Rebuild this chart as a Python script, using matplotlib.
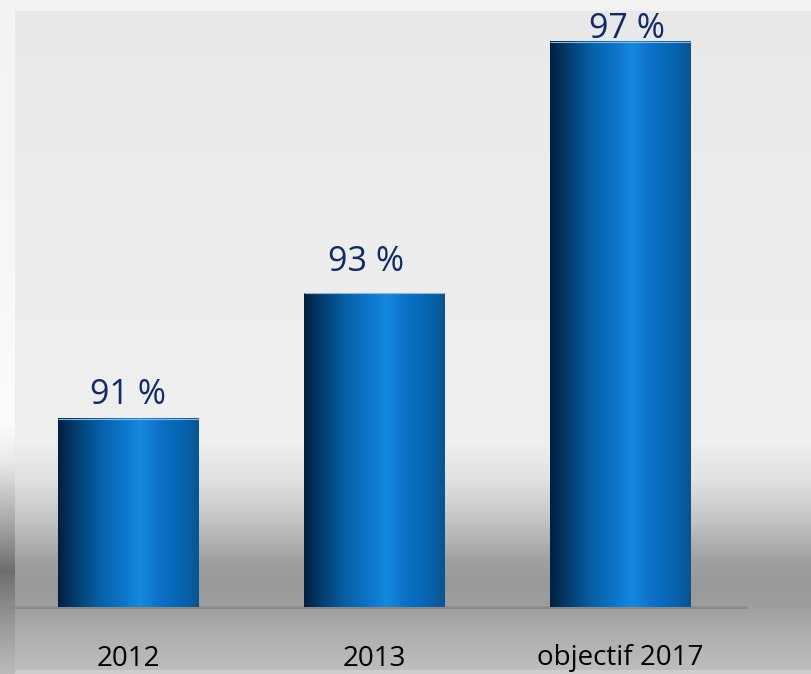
import numpy as np
import matplotlib
matplotlib.use("Agg")
import matplotlib.pyplot as plt
from matplotlib.colors import LinearSegmentedColormap

categories = ["2012", "2013", "objectif 2017"]
values = [91, 93, 97]
value_labels = ["91 %", "93 %", "97 %"]

W, H = 811, 674
fig = plt.figure(figsize=(W / 100, H / 100), dpi=100)

# ---- background (figure-level gradient image) ----
def vprofile(stops, n=H):
    ys = np.arange(n)
    pos = [s[0] for s in stops]
    cols = np.array([s[1] for s in stops], dtype=float)
    return np.stack([np.interp(ys, pos, cols[:, c]) for c in range(3)], axis=1)

def g(v):
    return (v / 255, v / 255, v / 255)

panel = vprofile([(0, g(232)), (60, g(234)), (200, g(237)), (440, g(239)),
                  (480, g(225)), (520, g(196)), (560, g(160)), (585, g(152)),
                  (606, g(158)), (625, g(170)), (670, g(190)), (674, g(190))])
strip = vprofile([(0, g(243)), (200, g(246)), (420, g(252)), (460, g(235)),
                  (520, g(170)), (570, g(110)), (620, g(150)), (670, g(185)), (674, g(185))])
bg = np.repeat(panel[:, None, :], W, axis=1)
bg[:, :15, :] = strip[:, None, :]
bg[:11, 15:, :] = np.array(g(242))
bg[670:, 15:, :] = np.array(g(205))

bgax = fig.add_axes([0, 0, 1, 1])
bgax.imshow(bg, aspect="auto", extent=(0, W, H, 0), zorder=0)
bgax.set_xlim(0, W)
bgax.set_ylim(H, 0)
bgax.axis("off")

# ---- main axes ----
base_px = 607
left_px, right_px = 15, 746
ax = fig.add_axes([left_px / W, (H - base_px) / H, (right_px - left_px) / W, base_px / H])
ax.patch.set_alpha(0)
ymin = 88
ppu = 62.8
ax.set_ylim(ymin, ymin + base_px / ppu)
x = np.arange(len(categories))
ax.set_xlim(-0.46, 2.51)
bar_w = 0.572

bar_cmap = LinearSegmentedColormap.from_list("bar", [
    (0.00, "#01203f"), (0.12, "#033c6b"), (0.30, "#0661a8"),
    (0.45, "#0b74c6"), (0.58, "#1688de"), (0.72, "#0b72c8"),
    (0.88, "#0665b0"), (1.00, "#0a5490")])
grad = np.linspace(0, 1, 256)[None, :]

bars = ax.bar(x, [v - ymin for v in values], bottom=ymin, width=bar_w,
              color="none", edgecolor="none", zorder=2)
for b in bars:
    x0, y0 = b.get_x(), b.get_y()
    ax.imshow(grad, cmap=bar_cmap, aspect="auto", zorder=2,
              extent=(x0, x0 + b.get_width(), y0, y0 + b.get_height()))
    ax.plot([x0, x0 + b.get_width()], [y0 + b.get_height()] * 2,
            color="#8fb8e0", lw=0.8, zorder=3, solid_capstyle="butt")

label_dx_px = [0, -8, 7]
label_gaps_px = [15, 22, 4]
for b, lab, dx, off in zip(bars, value_labels, label_dx_px, label_gaps_px):
    ax.annotate(lab, (b.get_x() + b.get_width() / 2, b.get_y() + b.get_height()),
                xytext=(dx * 0.72, off * 0.72), textcoords="offset points",
                ha="center", va="baseline", fontsize=24.5, color="#0d2a6b",
                family="Open Sans")

ax.set_xticks(x)
ax.set_xticklabels(categories, fontsize=20, family="Open Sans", color="#000000")
ax.tick_params(axis="x", length=0, pad=27)
ax.set_yticks([])
for s in ["top", "right", "left", "bottom"]:
    ax.spines[s].set_visible(False)

# baseline
bgax.plot([4, 746], [base_px, base_px], color="#8a8a8a", lw=2, zorder=1)

fig.savefig("out.png", dpi=100)
